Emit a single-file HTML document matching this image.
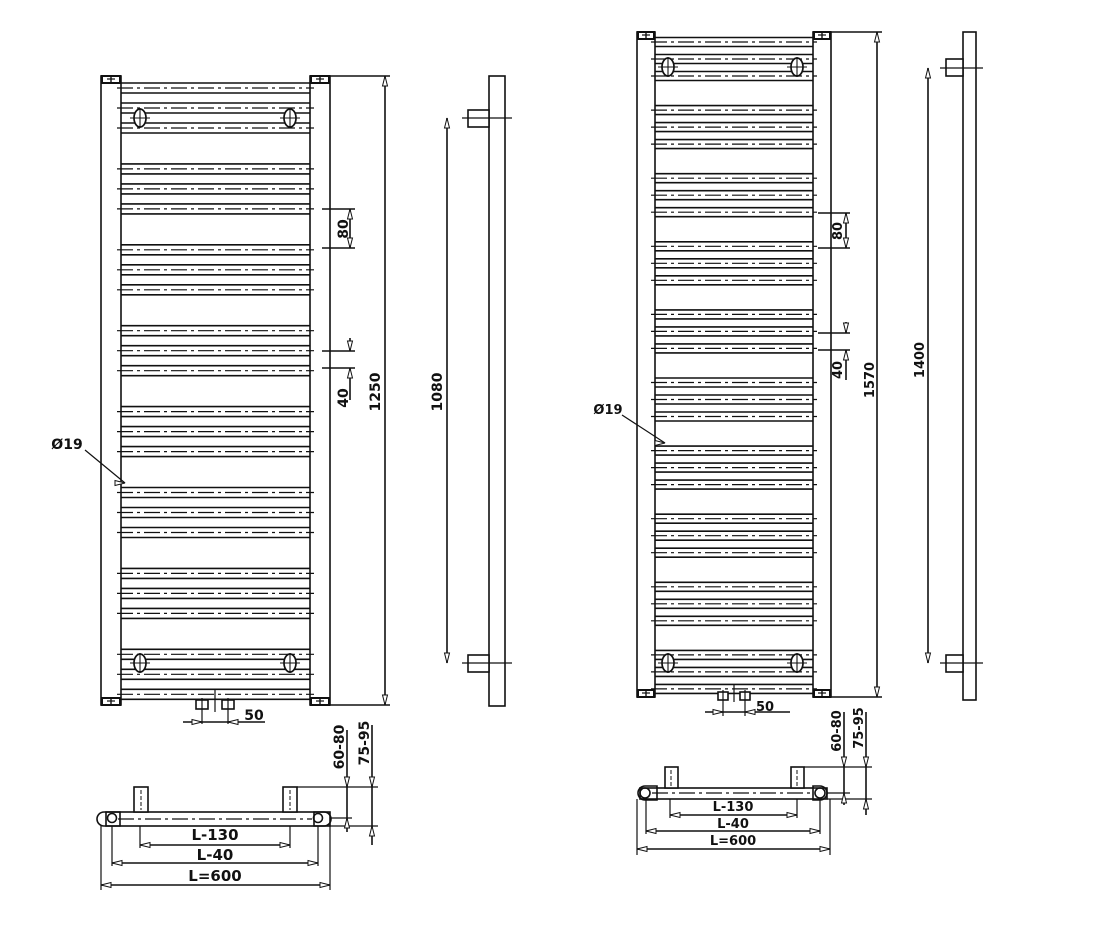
<!DOCTYPE html>
<html><head><meta charset="utf-8"><style>
html,body{margin:0;padding:0;background:#fff;}
svg{display:block;}
text{font-family:"DejaVu Sans","Liberation Sans",sans-serif;font-weight:bold;fill:#111;}
</style></head><body>
<svg id="s" width="1103" height="930" viewBox="0 0 1103 930" xmlns="http://www.w3.org/2000/svg">
<g id="g" stroke="#111" stroke-width="1.6" fill="none"></g>
</svg>
<script>
var g=document.getElementById('g'),S=document.getElementById('s');
function el(t,a,p){var e=document.createElementNS('http://www.w3.org/2000/svg',t);for(var k in a)e.setAttribute(k,a[k]);(p||g).appendChild(e);return e;}
function L(x1,y1,x2,y2,w,d){var a={x1:x1,y1:y1,x2:x2,y2:y2};if(w)a['stroke-width']=w;if(d)a['stroke-dasharray']=d;el('line',a);}
function R(x,y,w,h,sw){el('rect',{x:x,y:y,width:w,height:h,'stroke-width':sw||1.6,fill:'#fff'});}
function T(x,y,s,size,rot){var a={x:x,y:y,'font-size':size||14,'text-anchor':'middle'};if(rot)a.transform='rotate(-90 '+x+' '+y+')';var e=el('text',a,S);e.textContent=s;}
function arr(x,y,dir){
 var l=10,w=2.5,p;
 if(dir=='u')p=[x,y,x-w,y+l,x+w,y+l];if(dir=='d')p=[x,y,x-w,y-l,x+w,y-l];
 if(dir=='l')p=[x,y,x+l,y-w,x+l,y+w];if(dir=='r')p=[x,y,x-l,y-w,x-l,y+w];
 el('polygon',{points:p.join(' '),'stroke-width':1,fill:'#fff'});}
function rad(o){
 var xa=o.x1,xb=o.x2,pw=o.pw;
 R(xa,o.top,pw,o.bot-o.top);R(xb,o.top,pw,o.bot-o.top);
 var ia=xa+pw,ib=xb;
 [[xa,o.top],[xb,o.top],[xa,o.bot-7],[xb,o.bot-7]].forEach(function(c){R(c[0]+1,c[1],pw-2,7,2);L(c[0]+pw/2,c[1],c[0]+pw/2,c[1]+7,1.4);L(c[0]+pw/2-4,c[1]+3,c[0]+pw/2+4,c[1]+3,1.2);});
 for(var i=0;i<o.n;i++){var base=o.c0+i*o.per;
  for(var j=0;j<3;j++){var c=base+j*o.sp;
   L(ia,c-o.h,ib,c-o.h,1.6);L(ia,c+o.h,ib,c+o.h,1.6);
   L(ia-4,c,ib+4,c,1.2,'16 4 3 4');}}
 [o.ov1,o.ov2].forEach(function(y){[o.oa,o.ob].forEach(function(x){
  el('ellipse',{cx:x,cy:y,rx:6,ry:9,fill:'#fff','stroke-width':1.7});L(x,y-10,x,y+10,1.1);L(x-10,y,x+10,y,1.1);});});
}
rad({x1:101,x2:310,pw:20,top:76,bot:705,c0:88,per:80.9,sp:20,h:5,n:8,ov1:118,ov2:663,oa:140,ob:290});
rad({x1:637,x2:813,pw:18,top:32,bot:697,c0:42,per:68.1,sp:17,h:4.5,n:10,ov1:67,ov2:663,oa:668,ob:797});

L(330,76,390,76);L(330,705,390,705);L(385,76,385,705);arr(385,76,'u');arr(385,705,'d');T(380,392,'1250',14,1);
L(322,209,355,209);L(322,248,355,248);L(350,209,350,248);arr(350,209,'u');arr(350,248,'d');T(348,229,'80',14,1);
L(322,351,355,351);L(322,368,355,368);L(350,338,350,351);L(350,368,350,400);arr(350,351,'d');arr(350,368,'u');T(348,398,'40',14,1);
T(67,449,'Ø19',14);L(85,450,125,483,1.2);arr(125,483,'r');
R(489,76,16,630);R(468,110,21,17);R(468,655,21,17);L(462,118,512,118,1.2);L(462,663,512,663,1.2);
L(447,118,447,663);arr(447,118,'u');arr(447,663,'d');T(442,392,'1080',14,1);
R(196,700,12,9);R(222,700,12,9);L(202,698,202,724,1.2);L(228,698,228,724,1.2);L(215,690,215,712,1.2);
L(183,722,265,722);arr(202,722,'r');arr(228,722,'l');T(254,720,'50',14);
R(106,812,224,14);
el('path',{d:'M104 812 h16 v14 h-16 a7 7 0 0 1 0 -14 Z M314 812 h10 a7 7 0 0 1 0 14 h-10 Z','stroke-width':1.6});
el('circle',{cx:112,cy:818,r:4.5});el('circle',{cx:318,cy:818,r:4.5});
L(118,819,312,819,1.2,'16 4 3 4');
R(134,787,14,25);R(283,787,14,25);L(141,790,141,810,1,'4 2');L(290,790,290,810,1,'4 2');
L(140,826,140,848,1.2);L(290,826,290,848,1.2);L(140,845,290,845);arr(140,845,'l');arr(290,845,'r');T(215,840,'L-130',15);
L(112,826,112,866,1.2);L(318,826,318,866,1.2);L(112,863,318,863);arr(112,863,'l');arr(318,863,'r');T(215,860,'L-40',15);
L(101,826,101,890,1.2);L(330,826,330,890,1.2);L(101,885,330,885);arr(101,885,'l');arr(330,885,'r');T(215,881,'L=600',15);
L(297,787,378,787,1.2);L(330,818,352,818,1.2);L(330,826,378,826,1.2);
L(347,730,347,832);arr(347,787,'d');arr(347,818,'u');T(344,747,'60-80',14,1);
L(372,725,372,845);arr(372,787,'d');arr(372,826,'u');T(369,743,'75-95',14,1);

L(830,32,882,32);L(830,697,882,697);L(877,32,877,697);arr(877,32,'u');arr(877,697,'d');T(874,380,'1570',13,1);
L(818,213,850,213);L(818,248,850,248);L(846,213,846,248);arr(846,213,'u');arr(846,248,'d');T(842,231,'80',13,1);
L(818,333,850,333);L(818,350,850,350);L(846,322,846,333);L(846,350,846,380);arr(846,333,'d');arr(846,350,'u');T(842,370,'40',13,1);
T(608,414,'Ø19',13);L(622,415,665,443,1.2);arr(665,443,'r');
R(963,32,13,668);R(946,59,17,17);R(946,655,17,17);L(940,68,983,68,1.2);L(940,663,983,663,1.2);
L(928,68,928,663);arr(928,68,'u');arr(928,663,'d');T(924,360,'1400',13,1);
R(718,692,10,8);R(740,692,10,8);L(723,690,723,716,1.2);L(745,690,745,716,1.2);L(734,684,734,702,1.2);
L(705,712,790,712);arr(723,712,'r');arr(745,712,'l');T(765,711,'50',13);
R(640,788,187,11);
el('path',{d:'M645 786 h12 v14 h-12 a7 7 0 0 1 0 -14 Z M813 786 h7 a7 7 0 0 1 0 14 h-7 Z','stroke-width':1.6});
el('circle',{cx:645,cy:793,r:5});el('circle',{cx:820,cy:793,r:5});
L(652,793,813,793,1.2,'16 4 3 4');
R(665,767,13,21);R(791,767,13,21);L(671,770,671,786,1,'4 2');L(797,770,797,786,1,'4 2');
L(670,799,670,818,1.2);L(797,799,797,818,1.2);L(670,815,797,815);arr(670,815,'l');arr(797,815,'r');T(733,811,'L-130',13);
L(646,799,646,834,1.2);L(820,799,820,834,1.2);L(646,831,820,831);arr(646,831,'l');arr(820,831,'r');T(733,828,'L-40',13);
L(637,799,637,855,1.2);L(830,799,830,855,1.2);L(637,849,830,849);arr(637,849,'l');arr(830,849,'r');T(733,845,'L=600',13);
L(804,767,872,767,1.2);L(827,793,850,793,1.2);L(827,799,872,799,1.2);
L(844,712,844,805);arr(844,767,'d');arr(844,793,'u');T(841,731,'60-80',13,1);
L(866,712,866,815);arr(866,767,'d');arr(866,799,'u');T(863,728,'75-95',13,1);
</script>
</body></html>
